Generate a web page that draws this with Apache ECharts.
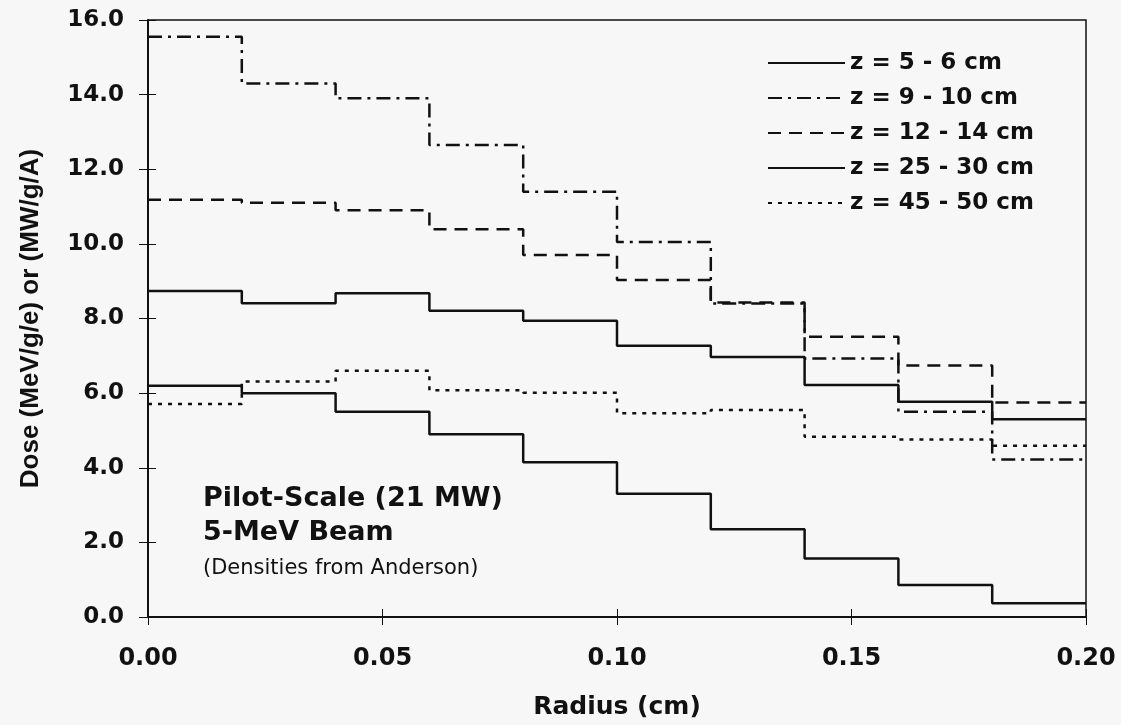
<!DOCTYPE html>
<html>
<head>
<meta charset="utf-8">
<script src="https://cdn.jsdelivr.net/npm/echarts@6/dist/echarts.min.js"></script>
<style>
  html, body { margin: 0; padding: 0; background: #f7f7f7; }
  #main { width: 1121px; height: 725px; }
</style>
</head>
<body>
<div id="main"></div>
<script>
// bin edges of the radius (cm)
const radiusEdges = [0, 0.02, 0.04, 0.06, 0.08, 0.10, 0.12, 0.14, 0.16, 0.18, 0.20]

// dose per radial bin, one value per bin
const dose_5_6 = [6.2, 6.0, 5.5, 4.9, 4.15, 3.3, 2.35, 1.57, 0.86, 0.37]
const dose_9_10 = [15.55, 14.3, 13.9, 12.65, 11.4, 10.05, 8.4, 6.93, 5.5, 4.22]
const dose_12_14 = [11.18, 11.1, 10.9, 10.39, 9.7, 9.03, 8.43, 7.51, 6.74, 5.75]
const dose_25_30 = [8.74, 8.41, 8.68, 8.21, 7.94, 7.27, 6.97, 6.22, 5.77, 5.3]
const dose_45_50 = [5.71, 6.31, 6.6, 6.08, 6.01, 5.46, 5.55, 4.83, 4.76, 4.59]

const seriesNames = ['z = 5 - 6 cm', 'z = 9 - 10 cm', 'z = 12 - 14 cm', 'z = 25 - 30 cm', 'z = 45 - 50 cm']

const BOLD = 'DejaVu Sans'

// histogram steps: each bin starts at its left edge, last edge closes the final bin
function steps(vals) {
  return radiusEdges.map((x, i) => [x, vals[Math.min(i, vals.length - 1)]])
}

function stepSeries(name, vals, dash) {
  return {
    name: name,
    type: 'line',
    step: 'end',
    symbol: 'none',
    xAxisIndex: 0,
    yAxisIndex: 0,
    itemStyle: { color: '#111' },
    lineStyle: { color: '#111', width: 2.5, type: dash },
    data: steps(vals),
    z: 3,
  }
}

const chart = echarts.init(document.getElementById('main'), null, { renderer: 'canvas' })

const option = {
  backgroundColor: '#f7f7f7',
  animation: false,
  grid: {
    left: 148,
    right: 35,
    top: 20,
    bottom: 108,
    show: true,
    borderColor: '#111',
    borderWidth: 1.5,
    backgroundColor: 'transparent',
  },
  legend: {
    orient: 'vertical',
    left: 762,
    top: 46,
    itemWidth: 77,
    itemHeight: 14,
    itemGap: 11,
    data: seriesNames,
    itemStyle: { opacity: 0 }, // hide the dot, keep the dashed line
    textStyle: {
      fontFamily: BOLD,
      fontWeight: 'bold',
      fontSize: 23,
      lineHeight: 24,
      color: '#111',
    },
  },
  xAxis: [
    {
      type: 'value',
      position: 'bottom',
      min: 0,
      max: 0.2,
      interval: 0.05,
      name: 'Radius (cm)',
      nameLocation: 'middle',
      nameGap: 78,
      nameTextStyle: { fontFamily: BOLD, fontWeight: 'bold', fontSize: 25, color: '#111' },
      axisLine: { show: true, lineStyle: { color: '#111', width: 2 } },
      axisTick: { show: true, inside: false, length: 8, lineStyle: { color: '#111', width: 1 } },
      axisLabel: {
        margin: 30,
        fontFamily: BOLD,
        fontWeight: 'bold',
        fontSize: 24,
        color: '#111',
        formatter: (v) => v.toFixed(2),
      },
      splitLine: { show: false },
    },
    {
      // second copy only for the inner half of the crossing ticks
      type: 'value',
      position: 'bottom',
      min: 0,
      max: 0.2,
      interval: 0.05,
      axisLine: { show: false },
      axisTick: { show: true, inside: true, length: 8, lineStyle: { color: '#111', width: 1 } },
      axisLabel: { show: false },
      splitLine: { show: false },
    },
  ],
  yAxis: [
    {
      type: 'value',
      position: 'left',
      min: 0,
      max: 16,
      interval: 2,
      name: 'Dose (MeV/g/e) or (MW/g/A)',
      nameLocation: 'middle',
      nameGap: 104,
      nameTextStyle: { fontFamily: 'Liberation Sans', fontWeight: 'bold', fontSize: 26, color: '#111' },
      axisLine: { show: true, lineStyle: { color: '#111', width: 2 } },
      axisTick: { show: true, inside: false, length: 9, lineStyle: { color: '#111', width: 1 } },
      axisLabel: {
        margin: 24,
        fontFamily: BOLD,
        fontWeight: 'bold',
        fontSize: 23,
        color: '#111',
        formatter: (v) => v.toFixed(1),
      },
      splitLine: { show: false },
    },
    {
      type: 'value',
      position: 'left',
      min: 0,
      max: 16,
      interval: 2,
      axisLine: { show: false },
      axisTick: { show: true, inside: true, length: 8, lineStyle: { color: '#111', width: 1 } },
      axisLabel: { show: false },
      splitLine: { show: false },
    },
  ],
  graphic: [
    {
      type: 'text',
      left: 203,
      top: 485,
      style: { text: 'Pilot-Scale (21 MW)', fontFamily: BOLD, fontWeight: 'bold', fontSize: 27, fill: '#111' },
    },
    {
      type: 'text',
      left: 203,
      top: 519,
      style: { text: '5-MeV Beam', fontFamily: BOLD, fontWeight: 'bold', fontSize: 27, fill: '#111' },
    },
    {
      type: 'text',
      left: 203,
      top: 558,
      style: { text: '(Densities from Anderson)', fontFamily: 'DejaVu Sans', fontSize: 21, fill: '#111' },
    },
  ],
  series: [
    stepSeries(seriesNames[0], dose_5_6, 'solid'),
    stepSeries(seriesNames[1], dose_9_10, [14, 6, 3, 6]),
    stepSeries(seriesNames[2], dose_12_14, [13, 8]),
    stepSeries(seriesNames[3], dose_25_30, 'solid'),
    stepSeries(seriesNames[4], dose_45_50, [4, 6]),
  ],
}

chart.setOption(option)
</script>
</body>
</html>
